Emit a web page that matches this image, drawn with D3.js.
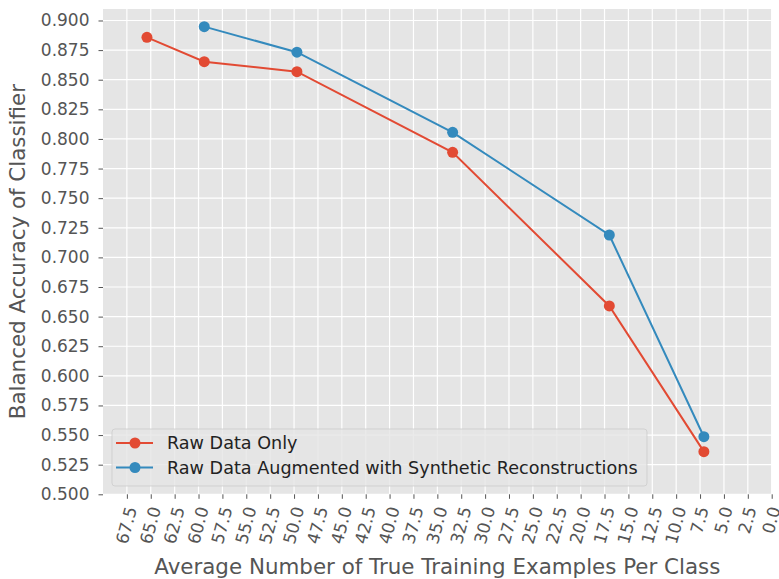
<!DOCTYPE html>
<html>
<head>
<meta charset="utf-8">
<script src="https://cdn.jsdelivr.net/npm/d3@7"></script>
<style>
  html, body { margin: 0; padding: 0; background: #ffffff; }
  svg { display: block; font-family: "DejaVu Sans", sans-serif; }
</style>
</head>
<body>
<svg id="chart" width="779" height="579"></svg>
<script>
// ---- data ----
const examplesPerClass = [65.4, 59.4, 49.7, 33.4, 17.0, 7.1];
const rawOnly   = [0.8858, 0.8652, 0.8568, 0.7887, 0.6590, 0.5360];
const augmented = [null,   0.8948, 0.8732, 0.8056, 0.7189, 0.5486];
const seriesNames = ["Raw Data Only", "Raw Data Augmented with Synthetic Reconstructions"];
const seriesColors = ["#E24A33", "#348ABD"];
const xTicks = d3.range(0, 28).map(i => 67.5 - i * 2.5);
const yTicks = d3.range(0, 17).map(i => 0.5 + i * 0.025);
const xLabel = "Average Number of True Training Examples Per Class";
const yLabel = "Balanced Accuracy of Classifier";

// ---- layout ----
const L = 103, R = 771.7, T = 9, B = 494.3;
const svg = d3.select("#chart");
const x = d3.scaleLinear().domain([70, 0]).range([L, R]);
const y = d3.scaleLinear().domain([0.5, 0.9097]).range([B, T]);
const tickFont = 17, labelFont = 21.4, legendFont = 17.6;

svg.append("rect").attr("x", L).attr("y", T).attr("width", R - L).attr("height", B - T).attr("fill", "#E5E5E5");

// grid
const grid = svg.append("g");
grid.selectAll("line.gx").data(xTicks).join("line")
  .attr("x1", d => x(d)).attr("x2", d => x(d)).attr("y1", T).attr("y2", B)
  .attr("stroke", "#ffffff").attr("stroke-width", 1.2);
grid.selectAll("line.gy").data(yTicks).join("line")
  .attr("y1", d => y(d)).attr("y2", d => y(d)).attr("x1", L).attr("x2", R)
  .attr("stroke", "#ffffff").attr("stroke-width", 1.2);

// y axis
const yAxis = d3.axisLeft(y).tickValues(yTicks).tickFormat(d3.format(".3f")).tickSize(4.5).tickPadding(9);
const gy = svg.append("g").attr("transform", `translate(${L},0)`).call(yAxis);
gy.select(".domain").remove();
gy.selectAll(".tick line").attr("stroke", "#555555").attr("stroke-width", 1);
gy.selectAll(".tick text").attr("fill", "#555555").style("font-size", tickFont + "px")
  .style("font-family", "DejaVu Sans");

// x axis
const xAxis = d3.axisBottom(x).tickValues(xTicks).tickFormat(d3.format(".1f")).tickSize(4.5);
const gx = svg.append("g").attr("transform", `translate(0,${B})`).call(xAxis);
gx.select(".domain").remove();
gx.selectAll(".tick line").attr("stroke", "#555555").attr("stroke-width", 1);
const ang = 75 * Math.PI / 180;
gx.selectAll(".tick text")
  .attr("fill", "#555555").style("font-size", tickFont + "px").style("font-family", "DejaVu Sans")
  .attr("y", null).attr("dy", null)
  .attr("text-anchor", "middle").attr("dominant-baseline", "central")
  .each(function() {
    const len = this.getComputedTextLength();
    const h = len * Math.sin(ang) + tickFont * 1.0 * Math.cos(ang);
    d3.select(this).attr("transform", `translate(-1,${4.5 + 6 + h / 2}) rotate(-75)`);
  });

// axis labels
svg.append("text").attr("x", (L + R) / 2).attr("y", 574).attr("text-anchor", "middle")
  .attr("fill", "#555555").style("font-size", labelFont + "px").text(xLabel);
svg.append("text").attr("transform", `translate(25,${(T + B) / 2}) rotate(-90)`).attr("text-anchor", "middle")
  .attr("fill", "#555555").style("font-size", labelFont + "px").text(yLabel);

// lines
const series = [rawOnly, augmented];
series.forEach((vals, si) => {
  const pts = examplesPerClass.map((xv, i) => [xv, vals[i]]).filter(p => p[1] != null);
  const line = d3.line().x(p => x(p[0])).y(p => y(p[1]));
  svg.append("path").datum(pts).attr("d", line).attr("fill", "none")
    .attr("stroke", seriesColors[si]).attr("stroke-width", 2);
  svg.append("g").selectAll("circle").data(pts).join("circle")
    .attr("cx", p => x(p[0])).attr("cy", p => y(p[1])).attr("r", 5.5)
    .attr("fill", seriesColors[si]);
});

// legend
const lg = svg.append("g");
lg.append("rect").attr("x", 112).attr("y", 429).attr("width", 535).attr("height", 57)
  .attr("rx", 3).attr("fill", "#E5E5E5").attr("fill-opacity", 0.8)
  .attr("stroke", "#cccccc").attr("stroke-opacity", 0.8).attr("stroke-width", 1);
seriesNames.forEach((name, i) => {
  const cy = 443 + i * 24.5;
  lg.append("line").attr("x1", 116).attr("x2", 153).attr("y1", cy).attr("y2", cy)
    .attr("stroke", seriesColors[i]).attr("stroke-width", 2);
  lg.append("circle").attr("cx", 135).attr("cy", cy).attr("r", 5.5).attr("fill", seriesColors[i]);
  lg.append("text").attr("x", 167).attr("y", cy).attr("dominant-baseline", "central")
    .attr("fill", "#222222").style("font-size", legendFont + "px").text(name);
});
</script>
</body>
</html>
